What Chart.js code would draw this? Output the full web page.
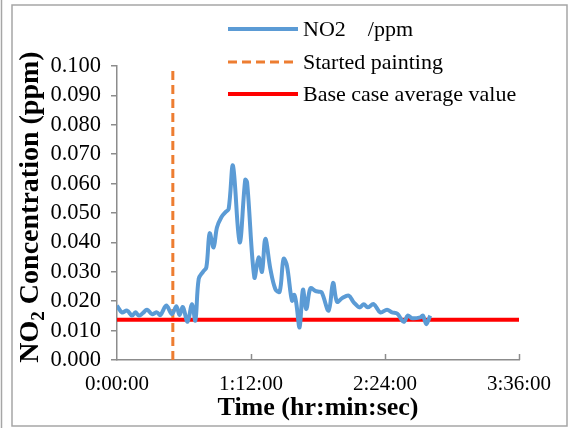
<!DOCTYPE html>
<html>
<head>
<meta charset="utf-8">
<script src="https://cdn.jsdelivr.net/npm/chart.js@4.4.1/dist/chart.umd.min.js"></script>
<style>
  body { margin: 0; background: #fff; }
  canvas { display: block; }
</style>
</head>
<body>
<canvas id="no2Chart" width="570" height="428"></canvas>
<script>
// time in minutes since start, NO2 in ppm
const times = [0, 2.7, 5.4, 8.1, 9.9, 11.7, 14.0, 16.1, 18.8, 21.5, 23.3, 26.5, 29.5, 31.9, 33.6,
    35.4, 37.9, 40.3, 42.1, 43.9, 46.2, 48.0, 49.8, 51.9, 53.7, 56.0, 58.2, 60.0, 62.3, 65.9,
    68.9, 69.9, 73.8, 76.1, 77.9, 79.7, 82.4, 85.1, 87.4, 89.5, 91.3, 94.0, 95.3, 96.4, 98.1,
    99.9, 101.7, 103.9, 106.5, 108.4, 110.0, 113.7, 116.1, 118.2, 120.9, 124.5, 127.2, 130.4, 132.6, 134.7,
    137.9, 141.5, 145.1, 147.8, 150.5, 154.1, 156.2, 158.6, 163.0, 164.4, 166.2, 168.3];
const no2 = [0.0185, 0.0162, 0.0168, 0.0151, 0.0162, 0.0151, 0.0160, 0.0171, 0.0156, 0.0162, 0.0153, 0.0185, 0.0156, 0.0183, 0.0153,
    0.0180, 0.0130, 0.0190, 0.0134, 0.0276, 0.0300, 0.0315, 0.0431, 0.0383, 0.0451, 0.0485, 0.0502, 0.0514, 0.0661, 0.0400,
    0.0613, 0.0604, 0.0281, 0.0349, 0.0300, 0.0412, 0.0310, 0.0241, 0.0232, 0.0344, 0.0321, 0.0202, 0.0222, 0.0190, 0.0111,
    0.0239, 0.0173, 0.0244, 0.0235, 0.0232, 0.0230, 0.0168, 0.0262, 0.0198, 0.0210, 0.0219, 0.0196, 0.0179, 0.0190, 0.0179,
    0.0190, 0.0162, 0.0171, 0.0162, 0.0158, 0.0130, 0.0151, 0.0142, 0.0145, 0.0151, 0.0122, 0.0151];

const paintStart = 30;        // minutes
const baseAverage = 0.0137;   // ppm
const xMin = 0, xMax = 216, xStep = 72;
const yMin = 0, yMax = 0.1, yStep = 0.01;
const seriesLabels = ['NO2    /ppm', 'Started painting', 'Base case average value'];
const yTitle = ['NO', '2', ' Concentration (ppm)'];

const serif = '"Liberation Serif", "Times New Roman", serif';
const axisGray = '#8c8c8c';

function fmtTime(min) {
    const h = Math.floor(min / 60);
    const m = Math.round(min % 60);
    return h + ':' + String(m).padStart(2, '0') + ':00';
}

const framePlugin = {
    id: 'frame',
    beforeDraw(chart) {
        const c = chart.ctx;
        c.save();
        c.fillStyle = '#fff';
        c.fillRect(0, 0, chart.width, chart.height);
        c.strokeStyle = '#a6a6a6';
        c.lineWidth = 1.5;
        c.beginPath();
        c.moveTo(1.5, 0);
        c.lineTo(1.5, chart.height);
        c.stroke();
        c.strokeRect(12, 5, 555, 421);
        c.restore();
    },
    afterDraw(chart) {
        const c = chart.ctx;
        const x = chart.scales.x;
        const bottom = chart.chartArea.bottom;
        c.save();
        // x tick marks point up into the plot
        c.strokeStyle = axisGray;
        c.lineWidth = 1.5;
        for (let v = xMin + xStep; v <= xMax; v += xStep) {
            const px = Math.round(x.getPixelForValue(v)) + 0.5;
            c.beginPath();
            c.moveTo(px, bottom);
            c.lineTo(px, bottom - 6);
            c.stroke();
        }

        // y axis title with subscript 2
        const big = 'bold 28px ' + serif;
        const small = 'bold 19px ' + serif;
        c.font = big;
        const w0 = c.measureText(yTitle[0]).width;
        const w2 = c.measureText(yTitle[2]).width;
        c.font = small;
        const w1 = c.measureText(yTitle[1]).width;
        const total = w0 + w1 + w2;
        c.translate(31, 207);
        c.rotate(-Math.PI / 2);
        c.fillStyle = '#000';
        c.textBaseline = 'middle';
        c.textAlign = 'left';
        let pos = -total / 2;
        c.font = big;
        c.fillText(yTitle[0], pos, 0);
        pos += w0;
        c.font = small;
        c.fillText(yTitle[1], pos, 8);
        pos += w1;
        c.font = big;
        c.fillText(yTitle[2], pos, 0);
        c.setTransform(1, 0, 0, 1, 0, 0);

        // legend
        const rowsY = [29, 62, 94];
        c.font = '22px ' + serif;
        c.textBaseline = 'middle';
        c.fillStyle = '#000';
        chart.data.datasets.forEach((ds, i) => {
            c.strokeStyle = ds.borderColor;
            c.lineWidth = ds.borderWidth;
            c.setLineDash(ds.borderDash || []);
            c.lineCap = 'butt';
            c.beginPath();
            c.moveTo(228, rowsY[i]);
            c.lineTo(298, rowsY[i]);
            c.stroke();
            c.setLineDash([]);
            c.fillText(ds.label, 303, rowsY[i] + 1);
        });
        c.restore();
    }
};

const ctx = document.getElementById('no2Chart').getContext('2d');
new Chart(ctx, {
    type: 'line',
    data: {
        datasets: [
            {
                label: seriesLabels[0],
                data: times.map((t, i) => ({ x: t, y: no2[i] })),
                borderColor: '#5b9bd5',
                borderWidth: 4,
                pointRadius: 0,
                tension: 0.35
            },
            {
                label: seriesLabels[1],
                data: [{ x: paintStart, y: yMin }, { x: paintStart, y: yMax }],
                borderColor: '#ed7d31',
                borderWidth: 3,
                borderDash: [9, 5],
                pointRadius: 0
            },
            {
                label: seriesLabels[2],
                data: [{ x: xMin, y: baseAverage }, { x: xMax, y: baseAverage }],
                borderColor: '#ff0000',
                borderWidth: 4,
                pointRadius: 0
            }
        ]
    },
    options: {
        responsive: false,
        animation: false,
        layout: { padding: { left: 0, right: 51, top: 66, bottom: 0 } },
        plugins: {
            legend: { display: false },
            tooltip: { enabled: false }
        },
        scales: {
            x: {
                type: 'linear',
                min: xMin,
                max: xMax,
                afterFit(scale) { scale.height = 68; },
                border: { color: axisGray, width: 1.5 },
                grid: { drawOnChartArea: false, drawTicks: false },
                ticks: {
                    stepSize: xStep,
                    padding: 12,
                    color: '#000',
                    font: { family: serif, size: 21 },
                    maxRotation: 0,
                    autoSkip: false,
                    callback: (v) => fmtTime(v)
                },
                title: {
                    display: true,
                    text: 'Time (hr:min:sec)',
                    color: '#000',
                    font: { family: serif, size: 26, weight: 'bold' },
                    padding: { top: 0, bottom: 4 }
                }
            },
            y: {
                min: yMin,
                max: yMax,
                afterFit(scale) { scale.width = 117; },
                border: { color: axisGray, width: 1.5 },
                grid: { drawOnChartArea: false, drawTicks: true, tickLength: 6, color: axisGray, lineWidth: 1.5 },
                ticks: {
                    stepSize: yStep,
                    padding: 10,
                    color: '#000',
                    font: { family: serif, size: 22.5 },
                    autoSkip: false,
                    callback: (v) => v.toFixed(3)
                },
                title: { display: false }
            }
        }
    },
    plugins: [framePlugin]
});
</script>
</body>
</html>
